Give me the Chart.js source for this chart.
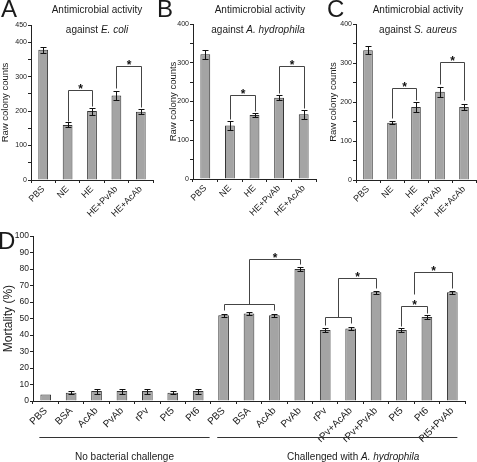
<!DOCTYPE html>
<html>
<head>
<meta charset="utf-8">
<script src="https://cdn.jsdelivr.net/npm/chart.js@4.4.0/dist/chart.umd.min.js"></script>
<style>
  body { margin: 0; background: #fff; font-family: "Liberation Sans", Arial, sans-serif; color: #1a1a1a; }
  #fig { position: relative; width: 477px; height: 462px; overflow: hidden; background: #fff; }
  canvas { position: absolute; }
  .letter { position: absolute; font-size: 24px; line-height: 24px; }
  .title { position: absolute; font-size: 10px; line-height: 12px; transform: translate(-50%, -50%); white-space: nowrap; }
</style>
</head>
<body>
<div id="fig">
  <canvas id="chart-a" width="160" height="225" style="left:0;top:0"></canvas>
  <canvas id="chart-b" width="160" height="225" style="left:160px;top:0"></canvas>
  <canvas id="chart-c" width="157" height="225" style="left:320px;top:0"></canvas>
  <canvas id="chart-d" width="477" height="232" style="left:0;top:230px"></canvas>

  <div class="letter" style="left:1px;top:-3px">A</div>
  <div class="letter" style="left:157px;top:-3px">B</div>
  <div class="letter" style="left:327px;top:-3px">C</div>
  <div class="letter" style="left:-2px;top:229px">D</div>

  <div class="title" style="left:97px;top:10px">Antimicrobial activity</div>
  <div class="title" style="left:97px;top:30px">against <i>E. coli</i></div>
  <div class="title" style="left:260px;top:10px">Antimicrobial activity</div>
  <div class="title" style="left:258px;top:30px">against <i>A. hydrophila</i></div>
  <div class="title" style="left:418px;top:10px">Antimicrobial activity</div>
  <div class="title" style="left:418px;top:30px">against <i>S. aureus</i></div>
</div>

<script>
// --- data ---
const topCategories = ['PBS', 'NE', 'HE', 'HE+PvAb', 'HE+AcAb'];

const ecoliCounts  = [378, 160, 200, 245, 198];
const ecoliErrors  = [9, 7, 10, 12, 7];
const hydroCounts  = [322, 138, 165, 210, 167];
const hydroErrors  = [12, 12, 5, 7, 12];
const aureusCounts = [333, 147, 187, 226, 187];
const aureusErrors = [10, 4, 12, 12, 7];

const mortalityCategories = ['PBS', 'BSA', 'AcAb', 'PvAb', 'rPv', 'Pt5', 'Pt6',
  'PBS', 'BSA', 'AcAb', 'PvAb', 'rPv', 'rPv+AcAb', 'rPv+PvAb', 'Pt5', 'Pt6', 'Pt5+PvAb'];
const mortality       = [4, 5, 6, 6, 6, 5, 6, 52, 53, 52, 80, 43, 44, 66, 43, 51, 66];
const mortalityErrors = [0, 1, 1.5, 1.5, 1.5, 1, 1.5, 1, 1, 1, 1, 1, 1, 1, 1, 1, 1];

// significance brackets: from/to = category index, at = bracket height, end1/end2 = leg ends
const ecoliSig  = [
  { from: 1, to: 2, at: 260, end1: 172, end2: 216, star: true },
  { from: 3, to: 4, at: 330, end1: 268, end2: 213, star: true },
];
const hydroSig  = [
  { from: 1, to: 2, at: 217, end1: 155, end2: 175, star: true },
  { from: 3, to: 4, at: 292, end1: 222, end2: 182, star: true },
];
const aureusSig = [
  { from: 1, to: 2, at: 237, end1: 158, end2: 205, star: true },
  { from: 3, to: 4, at: 303, end1: 245, end2: 205, star: true },
];
const mortalitySig = [
  { from: 7, to: 9, at: 58.6, end1: 55, end2: 55 },
  { from: 8, to: 10, at: 86, end1: 58.6, end2: 82.8, star: true },
  { from: 11, to: 12, at: 50.7, end1: 46, end2: 47 },
  { from: 11.5, to: 13, at: 74.4, end1: 50.7, end2: 68.5, star: true },
  { from: 14, to: 15, at: 57.4, end1: 45.5, end2: 53.5, star: true },
  { from: 14.5, to: 16, at: 78.2, end1: 65, end2: 68.5, star: true },
];

const mortalityGroups = [
  { lineFrom: -0.25, lineTo: 6.45, labelAt: 3.1, text: [['No bacterial challenge', false]] },
  { lineFrom: 6.75, lineTo: 16.2, labelAt: 12.1, text: [['Challenged with ', false], ['A. hydrophila', true]] },
];

// --- chart setup ---
const FONT = '"Liberation Sans", Arial, sans-serif';
Chart.defaults.font.family = FONT;
Chart.defaults.color = '#1a1a1a';

const BAR_FILL = '#a4a4a4';
const BAR_EDGE = '#333';
const AXIS = '#222';

const errorBars = {
  id: 'errorBars',
  afterDatasetsDraw(chart) {
    const { ctx, scales: { y } } = chart;
    chart.data.datasets.forEach((ds, i) => {
      const meta = chart.getDatasetMeta(i);
      ctx.save();
      ctx.strokeStyle = '#111';
      ctx.lineWidth = 1;
      meta.data.forEach((bar, j) => {
        const e = ds.errors && ds.errors[j];
        if (!e) return;
        const x = Math.round(bar.x) + 0.5;
        const top = Math.round(y.getPixelForValue(ds.data[j] + e)) + 0.5;
        const bot = Math.round(y.getPixelForValue(ds.data[j] - e)) + 0.5;
        ctx.beginPath();
        ctx.moveTo(x, top); ctx.lineTo(x, bot);
        ctx.moveTo(x - 3, top); ctx.lineTo(x + 3, top);
        ctx.moveTo(x - 3, bot); ctx.lineTo(x + 3, bot);
        ctx.stroke();
      });
      ctx.restore();
    });
  }
};

const brackets = {
  id: 'brackets',
  afterDatasetsDraw(chart, args, opts) {
    const { ctx, scales: { x, y } } = chart;
    const px = v => Math.round(x.getPixelForValue(v)) + 0.5;
    const py = v => Math.round(y.getPixelForValue(v)) + 0.5;
    ctx.save();
    ctx.strokeStyle = '#444';
    ctx.lineWidth = 1;
    ctx.fillStyle = '#111';
    ctx.font = 'bold 12px ' + FONT;
    ctx.textAlign = 'center';
    (opts.items || []).forEach(b => {
      const x1 = px(b.from), x2 = px(b.to), yl = py(b.at);
      ctx.beginPath();
      ctx.moveTo(x1, py(b.end1));
      ctx.lineTo(x1, yl);
      ctx.lineTo(x2, yl);
      ctx.lineTo(x2, py(b.end2));
      ctx.stroke();
      if (b.star) ctx.fillText('*', (x1 + x2) / 2, yl + 2);
    });
    ctx.restore();
  }
};

const groupLabels = {
  id: 'groupLabels',
  afterDraw(chart, args, opts) {
    const { ctx, chartArea, scales: { x } } = chart;
    if (!opts.groups) return;
    ctx.save();
    ctx.strokeStyle = '#333';
    ctx.fillStyle = '#1a1a1a';
    ctx.lineWidth = 1;
    ctx.textBaseline = 'middle';
    ctx.textAlign = 'left';
    const ly = Math.round(chartArea.bottom + opts.lineOffset) + 0.5;
    const ty = chartArea.bottom + opts.textOffset;
    opts.groups.forEach(g => {
      ctx.beginPath();
      ctx.moveTo(x.getPixelForValue(g.lineFrom), ly);
      ctx.lineTo(x.getPixelForValue(g.lineTo), ly);
      ctx.stroke();
      const fonts = g.text.map(([, it]) => (it ? 'italic ' : '') + '10px ' + FONT);
      let w = 0;
      g.text.forEach(([t], k) => { ctx.font = fonts[k]; w += ctx.measureText(t).width; });
      let cx = x.getPixelForValue(g.labelAt) - w / 2;
      g.text.forEach(([t], k) => {
        ctx.font = fonts[k];
        ctx.fillText(t, cx, ty);
        cx += ctx.measureText(t).width;
      });
    });
    ctx.restore();
  }
};

function barChart(id, cfg) {
  return new Chart(document.getElementById(id), {
    type: 'bar',
    data: {
      labels: cfg.labels,
      datasets: [{
        data: cfg.values,
        errors: cfg.errors,
        backgroundColor: BAR_FILL,
        borderColor: BAR_EDGE,
        borderWidth: 1,
        barPercentage: cfg.barPct,
        categoryPercentage: 1,
      }]
    },
    options: {
      responsive: false,
      animation: false,
      layout: { autoPadding: false, padding: cfg.padding },
      plugins: {
        legend: { display: false },
        tooltip: { enabled: false },
        brackets: { items: cfg.sig },
        groupLabels: cfg.groups || {},
      },
      scales: {
        x: {
          grid: { display: true, drawOnChartArea: false, tickLength: 3, color: AXIS, offset: true },
          border: { color: AXIS },
          ticks: { font: { size: cfg.xFont }, minRotation: 45, maxRotation: 45, autoSkip: false, padding: 1, color: '#1a1a1a' },
          afterFit: s => { s.height = cfg.xHeight; },
        },
        y: {
          min: 0,
          max: cfg.yMax,
          grid: { drawOnChartArea: false, tickLength: 3, color: AXIS },
          border: { color: AXIS },
          ticks: {
            stepSize: cfg.yStep,
            font: { size: cfg.yFont },
            padding: 1,
            color: '#1a1a1a',
            callback: cfg.yLabel,
          },
          title: {
            display: true,
            text: cfg.yTitle,
            font: { size: cfg.yTitleFont },
            padding: { top: cfg.yTitlePad, bottom: 0 },
            color: '#1a1a1a',
          },
          afterFit: s => { s.width = cfg.yWidth; },
        }
      }
    },
    plugins: [errorBars, brackets, groupLabels]
  });
}

const topLabel = v => (v % 100 === 0 || v === 450 ? v : '');

barChart('chart-a', {
  labels: topCategories, values: ecoliCounts, errors: ecoliErrors, sig: ecoliSig,
  yMax: 450, yStep: 50, yLabel: topLabel, yTitle: 'Raw colony counts',
  padding: { top: 25, right: 7, left: 0, bottom: 0 },
  yWidth: 31, xHeight: 45, barPct: 0.4, xFont: 9, yFont: 7, yTitleFont: 9.5, yTitlePad: 0,
});
barChart('chart-b', {
  labels: topCategories, values: hydroCounts, errors: hydroErrors, sig: hydroSig,
  yMax: 400, yStep: 50, yLabel: topLabel, yTitle: 'Raw colony counts',
  padding: { top: 24, right: 4, left: 0, bottom: 0 },
  yWidth: 33, xHeight: 46, barPct: 0.4, xFont: 9, yFont: 7, yTitleFont: 9.5, yTitlePad: 8,
});
barChart('chart-c', {
  labels: topCategories, values: aureusCounts, errors: aureusErrors, sig: aureusSig,
  yMax: 400, yStep: 50, yLabel: topLabel, yTitle: 'Raw colony counts',
  padding: { top: 24, right: 1, left: 0, bottom: 0 },
  yWidth: 36, xHeight: 45, barPct: 0.4, xFont: 9, yFont: 7, yTitleFont: 9.5, yTitlePad: 8,
});
barChart('chart-d', {
  labels: mortalityCategories, values: mortality, errors: mortalityErrors, sig: mortalitySig,
  yMax: 100, yStep: 10, yLabel: v => v, yTitle: 'Mortality (%)',
  padding: { top: 5, right: 12, left: 0, bottom: 0 },
  yWidth: 33, xHeight: 61, barPct: 0.42, xFont: 10, yFont: 8.5, yTitleFont: 12, yTitlePad: 1,
  groups: { groups: mortalityGroups, lineOffset: 36, textOffset: 56 },
});
</script>
</body>
</html>
